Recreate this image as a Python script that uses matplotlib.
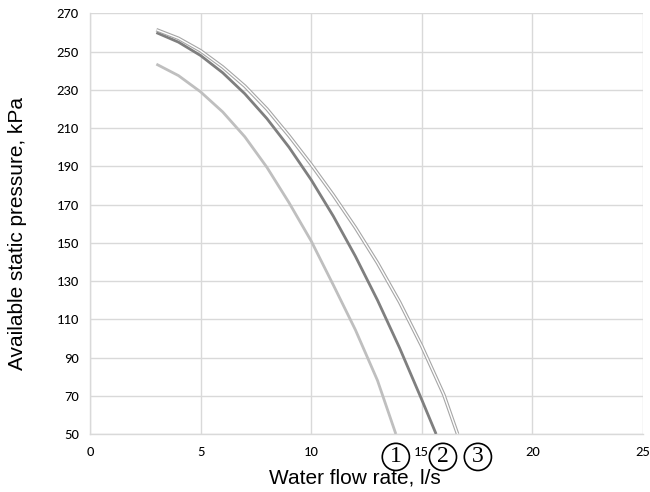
import matplotlib
matplotlib.use("Agg")
import matplotlib.pyplot as plt
from matplotlib import font_manager

# ---- data ----
flow_1 = [3, 4, 5, 6, 7, 8, 9, 10, 11, 12, 13, 13.83]
pressure_1 = [243.5, 237.5, 229, 218.5, 205.5, 189.5, 171, 151, 128, 104.5, 78, 50]

flow_2 = [3, 4, 5, 6, 7, 8, 9, 10, 11, 12, 13, 14, 15, 15.65]
pressure_2 = [260, 255, 248, 239, 228, 215, 200, 183, 164, 143, 120, 95, 68, 50]

flow_3 = [3, 4, 5, 6, 7, 8, 9, 10, 11, 12, 13, 14, 15, 16, 16.62]
pressure_3 = [261.5, 257, 250.5, 242, 232, 220, 206, 191, 175, 158, 139.5, 119, 96, 70.5, 50]

x_ticks = [0, 5, 10, 15, 20, 25]
y_ticks = [50, 70, 90, 110, 130, 150, 170, 190, 210, 230, 250, 270]

curve_labels = ["1", "2", "3"]
curve_label_x = [13.83, 15.96, 17.54]

x_title = "Water flow rate, l/s"
y_title = "Available static pressure, kPa"

# ---- fonts ----
avail = {f.name for f in font_manager.fontManager.ttflist}
tick_font = "Carlito" if "Carlito" in avail else "Lato"

W, H = 650, 492
fig = plt.figure(figsize=(6.5, 4.92), dpi=100)
ax = fig.add_axes([0.1385, 0.1179, 0.8505, 0.8547])

grid_col = "#d9d9d9"
ax.plot(flow_1, pressure_1, color="#bfbfbf", lw=2.0, solid_capstyle="butt", zorder=3)
ax.plot(flow_2, pressure_2, color="#7f7f7f", lw=2.0, solid_capstyle="butt", zorder=3)
ax.plot(flow_3, pressure_3, color="#a6a6a6", lw=2.6, solid_capstyle="butt", zorder=3)
ax.plot(flow_3, pressure_3, color="white", lw=1.0, solid_capstyle="butt", zorder=4)

ax.set_xlim(0, 25)
ax.set_ylim(50, 270)
ax.set_xticks(x_ticks)
ax.set_yticks(y_ticks)
ax.set_xticklabels([str(v) for v in x_ticks], fontfamily=tick_font, fontsize=10.5)
ax.set_yticklabels([str(v) for v in y_ticks], fontfamily=tick_font, fontsize=10.5)
ax.tick_params(axis="both", length=0, pad=8, colors="black")
ax.tick_params(axis="x", pad=9)

ax.grid(True, color=grid_col, lw=1.0, zorder=0)
ax.set_axisbelow(True)
for side in ["top", "right"]:
    ax.spines[side].set_visible(False)
for side in ["left", "bottom"]:
    ax.spines[side].set_color(grid_col)
    ax.spines[side].set_linewidth(1.0)

fig.text(355 / W, 1 - 478 / H, x_title, fontfamily="Liberation Sans", fontsize=15,
         ha="center", va="center")
fig.text(18 / W, 1 - 233 / H, y_title, fontfamily="Liberation Sans", fontsize=15,
         ha="center", va="center", rotation=90)

for lab, xv in zip(curve_labels, curve_label_x):
    ax.annotate(lab, xy=(xv, 0), xycoords=("data", "axes fraction"),
                xytext=(0, -16.5), textcoords="offset points",
                ha="center", va="center", fontfamily="Liberation Serif",
                fontsize=17,
                bbox=dict(boxstyle="circle,pad=0.13", fc="none", ec="black", lw=1.2),
                annotation_clip=False)

fig.savefig("out.png", dpi=100)
